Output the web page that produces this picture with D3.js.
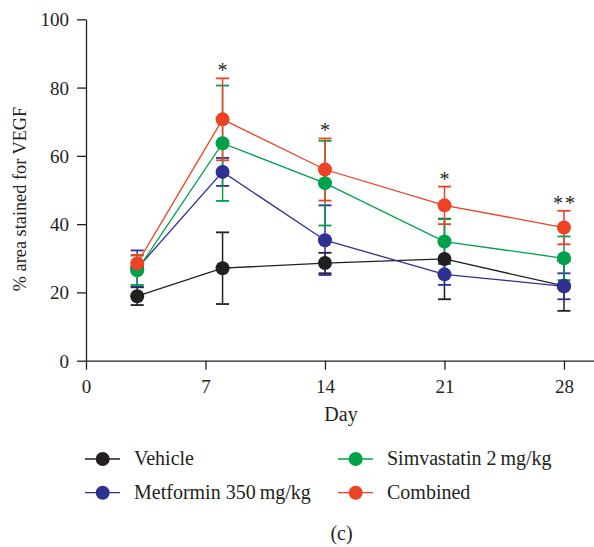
<!DOCTYPE html>
<html>
<head>
<meta charset="utf-8">
<script src="https://cdn.jsdelivr.net/npm/d3@7"></script>
<style>
    body { margin: 0; background: #fff; }
    svg text { font-family: "Liberation Serif", "Times New Roman", serif; fill: #231f20; }
</style>
</head>
<body>
<svg id="chartSvg" width="594" height="547"></svg>
<script>
var days = [3, 8, 14, 21, 28];
var xTicks = [0, 7, 14, 21, 28];
var yTicks = [0, 20, 40, 60, 80, 100];
var significance = ['', '*', '*', '*', '**'];

var seriesNames = ['Vehicle', 'Metformin 350\u2009mg/kg', 'Simvastatin 2\u2009mg/kg', 'Combined'];
var seriesColors = ['#231f20', '#2e3192', '#00a14b', '#ef4123'];

var vehicleMean = [18.9, 27.1, 28.6, 29.8, 21.9];
var vehicleSem = [2.6, 10.5, 3.0, 11.8, 7.3];
var metforminMean = [27.0, 55.3, 35.3, 25.3, 21.8];
var metforminSem = [5.3, 4.1, 10.2, 3.1, 3.8];
var simvastatinMean = [26.5, 63.7, 52.0, 34.9, 30.0];
var simvastatinSem = [4.3, 16.9, 12.4, 6.6, 6.4];
var combinedMean = [28.5, 70.7, 56.0, 45.5, 39.0];
var combinedSem = [2.5, 12.0, 9.1, 5.5, 4.9];

var means = [vehicleMean, metforminMean, simvastatinMean, combinedMean];
var sems = [vehicleSem, metforminSem, simvastatinSem, combinedSem];

var conf = {
    left: 86,
    right: 594,
    top: 19.3,
    bottom: 360.7,
    radius: 7,
    capHalf: 6.5,
};

var svg = d3.select('#chartSvg');

var x = d3.scaleLinear().domain([0, 29.76]).range([conf.left, conf.right]);
var y = d3.scaleLinear().domain([0, 100]).range([conf.bottom, conf.top]);

var series = seriesNames.map((name, i) => ({
    name: name,
    color: seriesColors[i],
    points: days.map((d, j) => ({ day: d, mean: means[i][j], sem: sems[i][j] }))
}));

// axes
var yAxis = svg.append('g')
    .attr('transform', `translate(${conf.left},0)`)
    .call(d3.axisLeft(y).tickValues(yTicks).tickSize(9).tickPadding(8).tickSizeOuter(0));

var xAxis = svg.append('g')
    .attr('transform', `translate(0,${conf.bottom})`)
    .call(d3.axisBottom(x).tickValues(xTicks).tickSize(9).tickPadding(8).tickSizeOuter(0));

[xAxis, yAxis].forEach(ax => {
    ax.select('.domain').attr('stroke', '#231f20').attr('stroke-width', 1.3);
    ax.selectAll('.tick line').attr('stroke', '#231f20').attr('stroke-width', 1.3);
    ax.selectAll('.tick text')
        .style('font-family', '"Liberation Serif", "Times New Roman", serif')
        .style('font-size', '19px')
        .attr('fill', '#231f20');
});
yAxis.selectAll('.tick text').attr('dy', '0.34em');
xAxis.selectAll('.tick text').attr('dy', '0.78em');

svg.append('text')
    .attr('x', (conf.left + conf.right) / 2 + 1)
    .attr('y', 421)
    .attr('text-anchor', 'middle')
    .style('font-size', '20px')
    .text('Day');

svg.append('text')
    .attr('transform', 'translate(26,199) rotate(-90)')
    .attr('text-anchor', 'middle')
    .style('font-size', '18.3px')
    .text('% area stained for VEGF');

var plot = svg.append('g');

// error bars + lines
series.forEach(s => {
    var g = plot.append('g').attr('stroke', s.color).attr('fill', 'none');
    s.points.forEach(p => {
        var cx = x(p.day);
        g.append('line')
            .attr('x1', cx).attr('x2', cx)
            .attr('y1', y(p.mean + p.sem)).attr('y2', y(p.mean - p.sem))
            .attr('stroke-width', 1.5);
        [p.mean + p.sem, p.mean - p.sem].forEach(v => {
            g.append('line')
                .attr('x1', cx - conf.capHalf).attr('x2', cx + conf.capHalf)
                .attr('y1', y(v)).attr('y2', y(v))
                .attr('stroke-width', 1.8);
        });
    });
    g.append('path')
        .datum(s.points)
        .attr('stroke-width', 1.3)
        .attr('d', d3.line().x(p => x(p.day)).y(p => y(p.mean)));
});

series.forEach(s => {
    plot.append('g').selectAll('circle')
        .data(s.points)
        .join('circle')
        .attr('cx', p => x(p.day))
        .attr('cy', p => y(p.mean))
        .attr('r', conf.radius)
        .attr('fill', s.color);
});

// significance marks sit ~12px above the highest error bar
days.forEach((d, j) => {
    if (!significance[j]) return;
    var top = d3.max(series, s => s.points[j].mean + s.points[j].sem);
    svg.append('text')
        .attr('x', x(d) + (significance[j].length > 1 ? 1 : 0))
        .attr('y', y(top) - 1)
        .attr('text-anchor', 'middle')
        .attr('letter-spacing', significance[j].length > 1 ? '2px' : null)
        .style('font-size', '20px')
        .text(significance[j]);
});

// legend
var legendPos = [[85, 459], [85, 492.7], [338, 459], [338, 492.7]];
series.forEach((s, i) => {
    var lx = legendPos[i][0], ly = legendPos[i][1];
    var g = svg.append('g').attr('transform', `translate(${lx},${ly})`);
    g.append('line').attr('x1', 0).attr('x2', 35).attr('y1', 0).attr('y2', 0)
        .attr('stroke', s.color).attr('stroke-width', 1.3);
    g.append('circle').attr('cx', 17.7).attr('cy', 0).attr('r', conf.radius).attr('fill', s.color);
    g.append('text').attr('x', 49).attr('y', 6)
        .style('font-size', '20px')
        .text(s.name);
});

svg.append('text')
    .attr('x', 341.5)
    .attr('y', 540)
    .attr('text-anchor', 'middle')
    .style('font-size', '20px')
    .text('(c)');
</script>
</body>
</html>
